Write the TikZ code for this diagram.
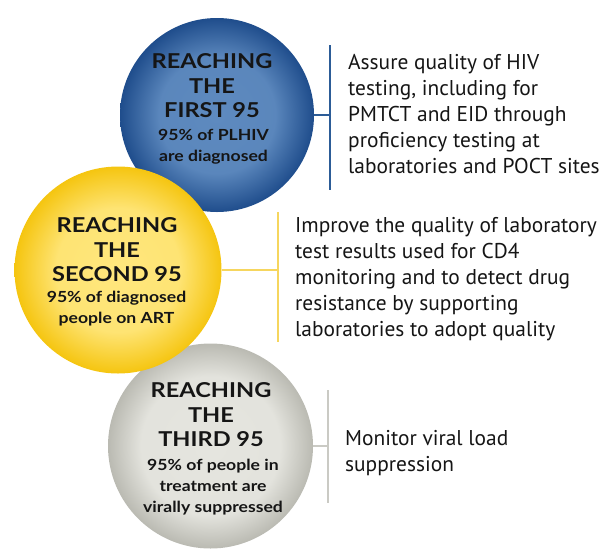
\documentclass[tikz,border=0pt]{standalone}
\usepackage{fontspec}
\setmainfont{PT Sans}
\newfontfamily\titlefont[FakeStretch=1.15]{Lato}
\usetikzlibrary{calc}
\definecolor{bluein}{HTML}{5E8ABF}
\definecolor{blueout}{HTML}{1F4D8C}
\definecolor{yelin}{HTML}{FFE77E}
\definecolor{yelout}{HTML}{F5C510}
\definecolor{grayin}{HTML}{E5E5DF}
\definecolor{grayout}{HTML}{BABAB2}
\definecolor{blueline}{HTML}{2C5C97}
\definecolor{yelline}{HTML}{F6D65E}
\definecolor{grayline}{HTML}{CACAC4}
\definecolor{txt}{HTML}{151515}
\pgfdeclareradialshading{blueball}{\pgfpoint{0bp}{0bp}}{color(0bp)=(bluein); color(15bp)=(bluein!94!blueout); color(25bp)=(blueout); color(50bp)=(blueout)}
\pgfdeclareradialshading{yelball}{\pgfpoint{0bp}{0bp}}{color(0bp)=(yelin); color(15bp)=(yelin!90!yelout); color(25bp)=(yelout); color(50bp)=(yelout)}
\pgfdeclareradialshading{grayball}{\pgfpoint{0bp}{0bp}}{color(0bp)=(grayin); color(17bp)=(grayin!95!grayout); color(25bp)=(grayout); color(50bp)=(grayout)}
\begin{document}
\begin{tikzpicture}[x=1pt,y=-1pt,
  ball/.style={circle, draw=none, minimum size=#1, inner sep=0pt, shade},
  ttl/.style={font=\titlefont\bfseries\fontsize{20.5}{24.5}\selectfont, align=center, inner sep=0pt, anchor=north, text=txt},
  sub/.style={font=\titlefont\bfseries\fontsize{15.3}{21}\selectfont, align=center, inner sep=0pt, anchor=north, text=txt},
  desc/.style={font=\fontsize{21.4}{26}\selectfont, align=left, inner sep=0pt, anchor=north west, text=txt},
  conn/.style={line width=2pt}]
\useasboundingbox (0,0) rectangle (613,550);
% circles
\node[ball=194pt, shading=blueball] (c1) at (217,115) {};
\node[ball=205pt, shading=grayball] (c3) at (210.5,446) {};
\node[ball=207pt, shading=yelball] (c2) at (118,270) {};
% connectors
\coordinate (v1a) at (330,45);
\coordinate (v1b) at (330,190);
\coordinate (v2a) at (278,212);
\coordinate (v2b) at (278,342);
\coordinate (v3a) at (328,390);
\coordinate (v3b) at (328,503);
\draw[conn, blueline] (v1a) -- (v1b);
\draw[conn, blueline] (c1.east) -- (c1.east -| v1a);
\draw[conn, yelline] (v2a) -- (v2b);
\draw[conn, yelline] (c2.east) -- (c2.east -| v2a);
\draw[conn, grayline] (v3a) -- (v3b);
\draw[conn, grayline] (c3.east) -- (c3.east -| v3a);
% circle texts
\node[ttl] (t1) at (212,53.5) {REACHING\\THE\\FIRST 95};
\node[sub] (s1) at (213.5,129) {95\% of PLHIV\\are diagnosed};
\node[ttl] (t2) at (117,217.5) {REACHING\\THE\\SECOND 95};
\node[sub] (s2) at (116.5,291) {95\% of diagnosed\\people on ART};
\node[ttl] (t3) at (211,382.5) {REACHING\\THE\\THIRD 95};
\node[sub] (s3) at (213,459) {95\% of people in\\treatment are\\virally suppressed};
% descriptions
\node[desc] (d1) at (348,54) {Assure quality of HIV\\testing, including for\\PMTCT and EID through\\proficiency testing at\\laboratories and POCT sites};
\node[desc] (d2) at (295,217) {Improve the quality of laboratory\\test results used for CD4\\monitoring and to detect drug\\resistance by supporting\\laboratories to adopt quality};
\node[desc] (d3) at (345,430) {Monitor viral load\\suppression};
\end{tikzpicture}
\end{document}
